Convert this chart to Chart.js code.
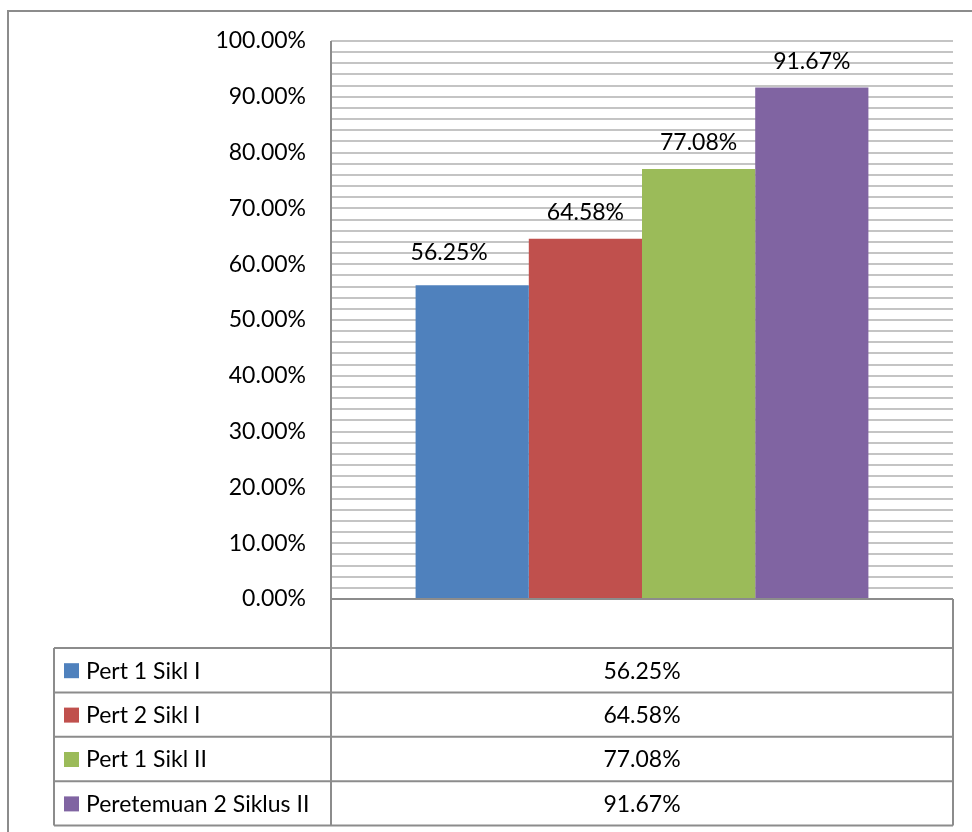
<!DOCTYPE html>
<html lang="id">
<head>
<meta charset="UTF-8">
<title>Persentase</title>
<script src="https://cdn.jsdelivr.net/npm/chart.js"></script>
<style>
    html, body { margin: 0; padding: 0; background: #ffffff; }
    #wrap { width: 972px; height: 832px; position: relative; }
</style>
</head>
<body>
<div id="wrap">
    <canvas id="chart" width="972" height="832"></canvas>
</div>
<script>
    // data
    const categories = [''];
    const seriesNames = ['Pert 1 Sikl I', 'Pert 2 Sikl I', 'Pert 1 Sikl II', 'Peretemuan 2 Siklus II'];
    const seriesValues = [56.25, 64.58, 77.08, 91.67];
    const seriesColors = ['#4F81BD', '#C0504D', '#9BBB59', '#8064A2'];
    const yTicks = [0, 10, 20, 30, 40, 50, 60, 70, 80, 90, 100];

    const FONT = 'Lato, "Noto Sans", sans-serif';
    const FSIZE = 23;
    const fmt = v => v.toFixed(2) + '%';

    const datasets = seriesNames.map((name, i) => ({
        label: name,
        data: [seriesValues[i]],
        backgroundColor: seriesColors[i],
        borderWidth: 0
    }));

    // labels above bars + data table + frame
    const excelExtras = {
        id: 'excelExtras',
        afterDatasetsDraw(chart) {
            const ctx = chart.ctx;
            ctx.save();
            ctx.font = FSIZE + 'px ' + FONT;
            ctx.fillStyle = '#000';
            ctx.textAlign = 'center';
            ctx.textBaseline = 'middle';
            // first label was moved a bit in the original
            const shift = [[-23, -7], [0, 0], [0, 0], [0, 0]];
            chart.data.datasets.forEach((ds, i) => {
                const bar = chart.getDatasetMeta(i).data[0];
                ctx.fillText(fmt(ds.data[0]), bar.x + shift[i][0], bar.y - 26 + shift[i][1]);
            });
            ctx.restore();
        },
        afterDraw(chart) {
            const ctx = chart.ctx;
            const area = chart.chartArea;
            const left = 54, axisX = area.left, right = area.right;
            const headH = 49, rowH = 44.4;
            const top = area.bottom;
            const rowsTop = top + headH;
            const bottom = rowsTop + rowH * seriesNames.length;

            ctx.save();
            ctx.strokeStyle = '#8c8c8c';
            ctx.lineWidth = 2;

            // outer frame
            ctx.strokeRect(8, 11, 1000, 900);

            ctx.beginPath();
            ctx.moveTo(axisX, top); ctx.lineTo(right, top);
            for (let r = 0; r <= seriesNames.length; r++) {
                const y = rowsTop + rowH * r;
                ctx.moveTo(left, y); ctx.lineTo(right, y);
            }
            ctx.moveTo(left, rowsTop); ctx.lineTo(left, bottom);
            ctx.moveTo(axisX, area.top); ctx.lineTo(axisX, bottom);
            ctx.moveTo(right, top); ctx.lineTo(right, bottom);
            ctx.stroke();

            ctx.font = FSIZE + 'px ' + FONT;
            ctx.textBaseline = 'middle';
            seriesNames.forEach((name, r) => {
                const cy = rowsTop + rowH * r + rowH / 2;
                ctx.fillStyle = seriesColors[r];
                ctx.fillRect(64, cy - 7, 15, 15);
                ctx.fillStyle = '#000';
                ctx.textAlign = 'left';
                ctx.fillText(name, 86, cy + 1);
                ctx.textAlign = 'center';
                ctx.fillText(fmt(seriesValues[r]), (axisX + right) / 2, cy + 1);
            });
            ctx.restore();
        }
    };

    const chart = new Chart(document.getElementById('chart'), {
        type: 'bar',
        data: { labels: categories, datasets: datasets },
        options: {
            responsive: false,
            animation: false,
            devicePixelRatio: 1,
            datasets: {
                bar: { categoryPercentage: 0.728, barPercentage: 1.0 }
            },
            layout: { padding: { left: 0, top: 41, right: 19, bottom: 233 } },
            plugins: {
                legend: { display: false },
                tooltip: { enabled: false }
            },
            scales: {
                x: { display: false },
                y: {
                    min: 0,
                    max: 100,
                    afterFit(scale) { scale.width = 331; },
                    afterBuildTicks(scale) {
                        // minor gridlines every 2%, labels on the major ones
                        const t = [];
                        for (let v = 0; v <= 100; v += 2) t.push({ value: v });
                        scale.ticks = t;
                    },
                    ticks: {
                        autoSkip: false,
                        padding: 25,
                        color: '#000',
                        font: { family: FONT, size: FSIZE },
                        callback: v => yTicks.includes(v) ? fmt(v) : ''
                    },
                    grid: { color: '#c4c4c4', lineWidth: 2, drawTicks: false },
                    border: { display: false }
                }
            }
        },
        plugins: [excelExtras]
    });
</script>
</body>
</html>
